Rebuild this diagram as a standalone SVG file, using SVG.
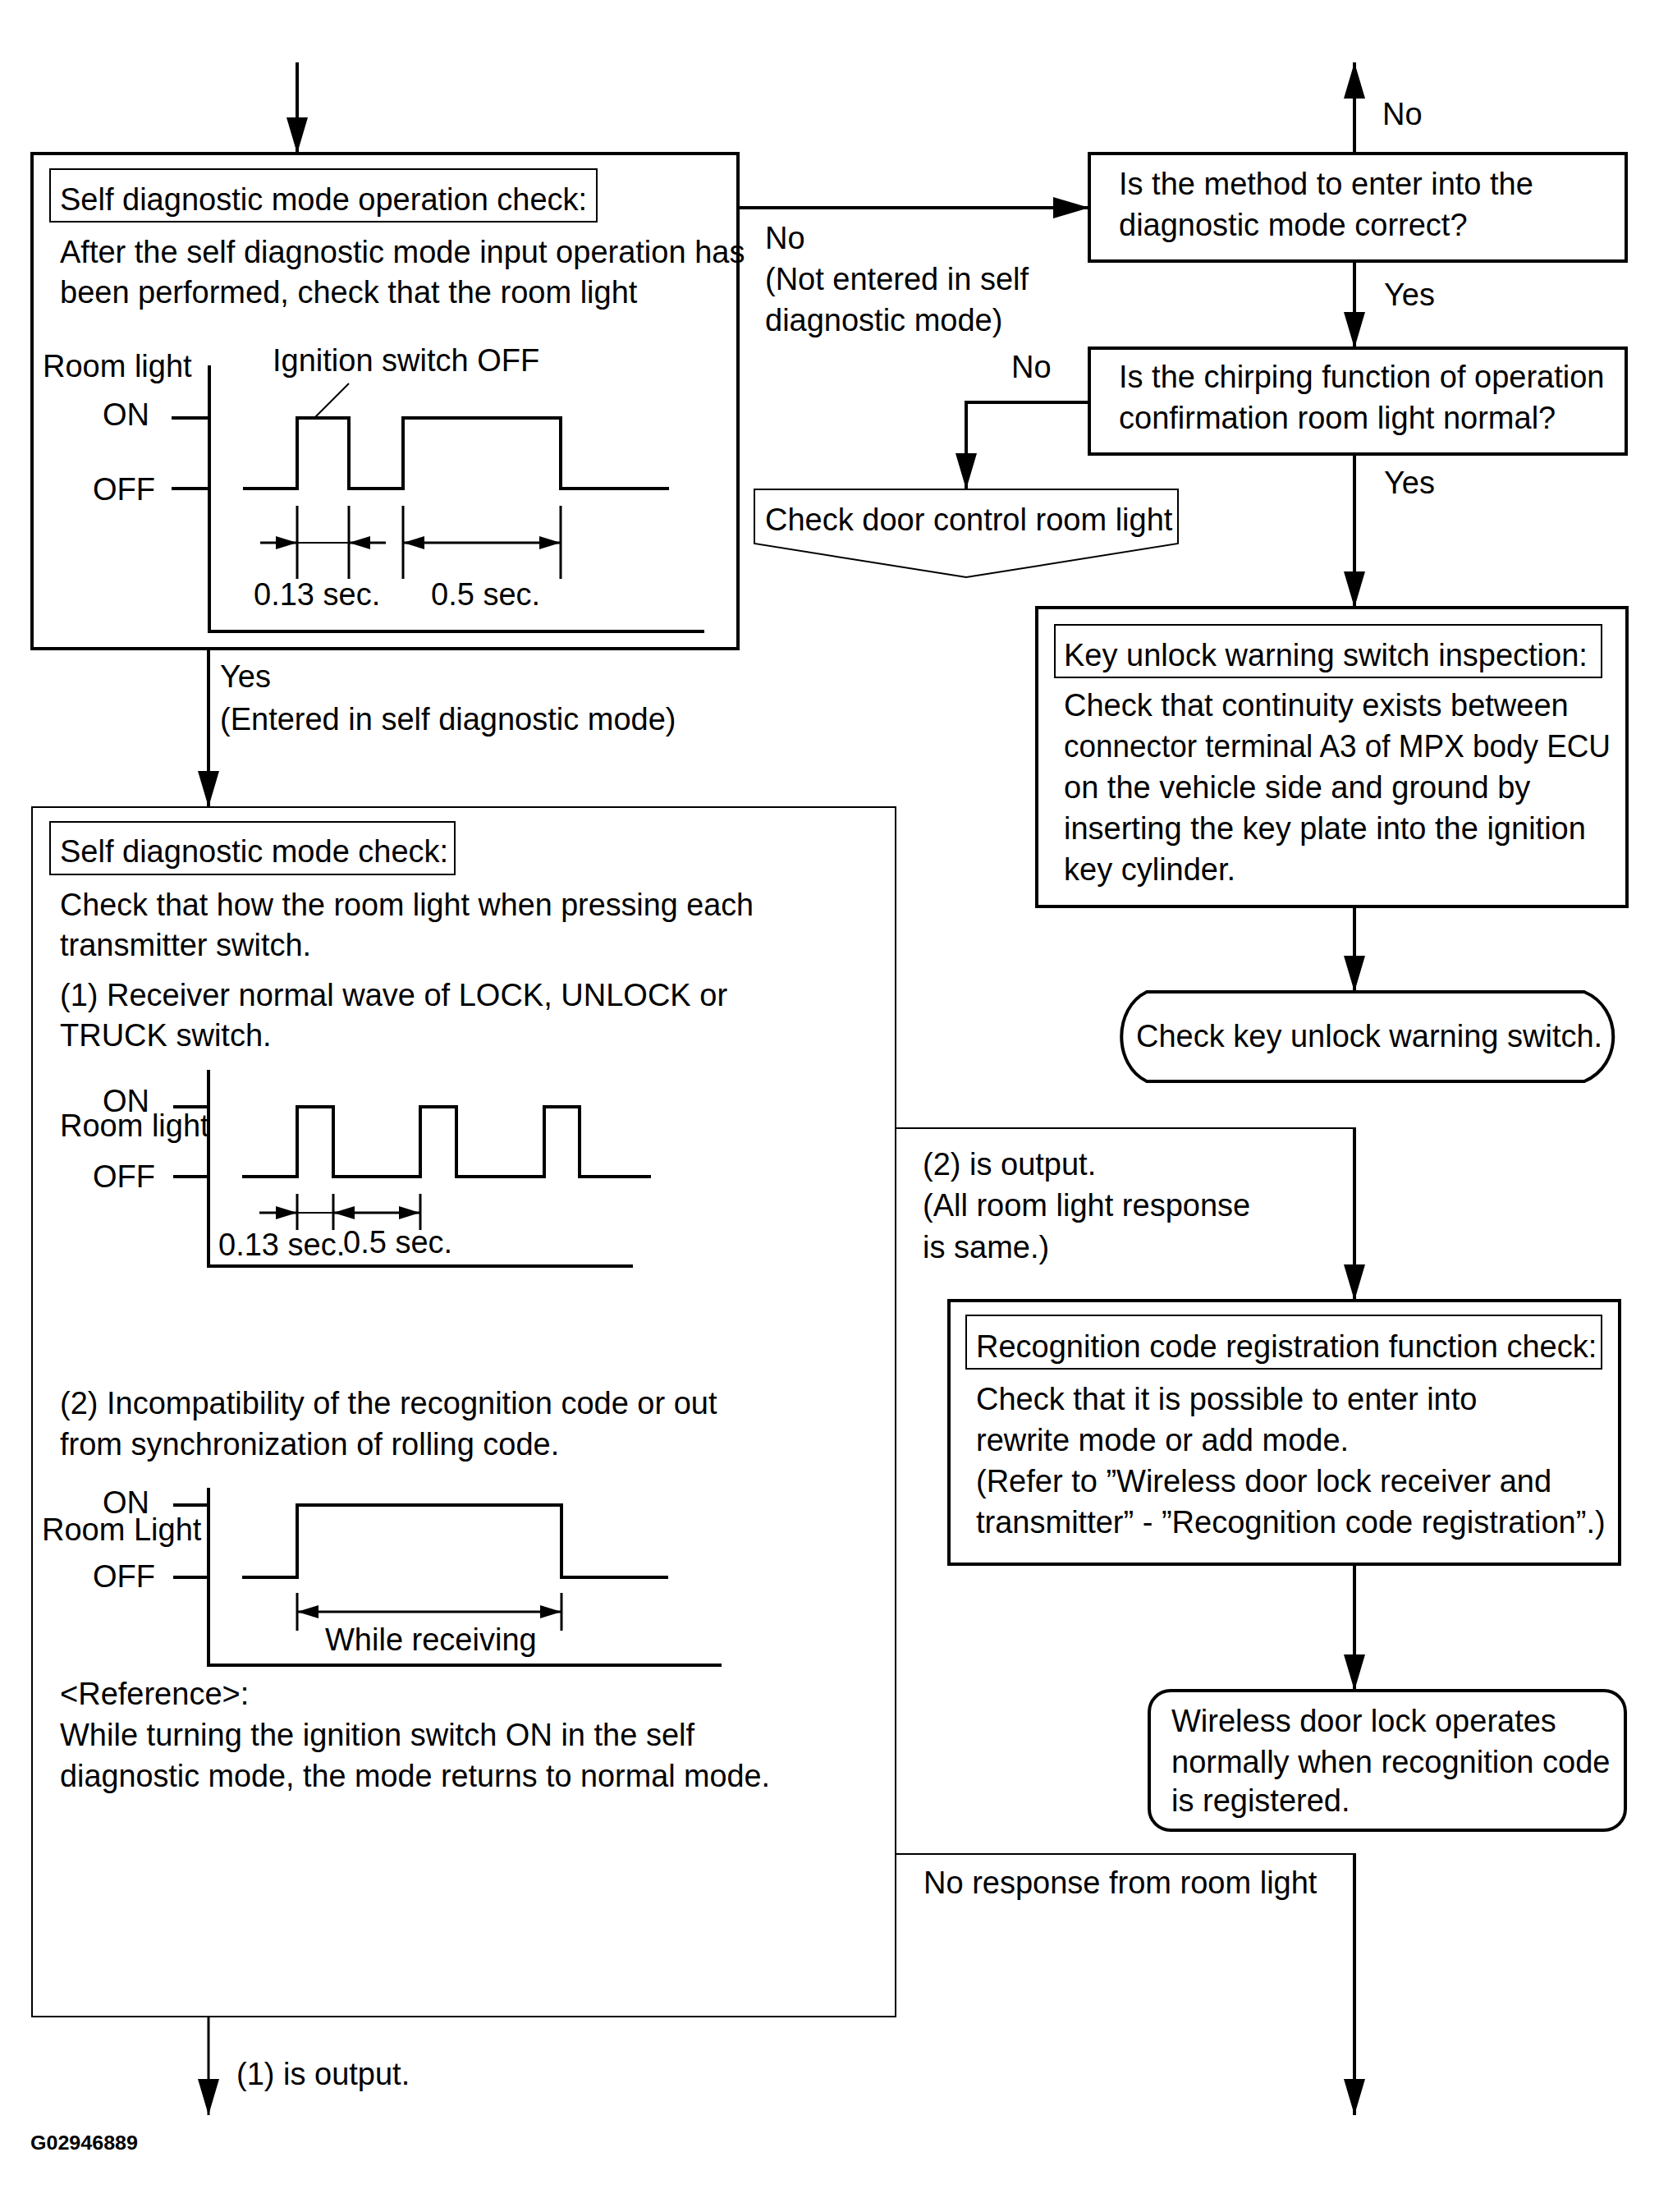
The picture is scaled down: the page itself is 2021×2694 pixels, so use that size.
<svg xmlns="http://www.w3.org/2000/svg" width="2021" height="2694" viewBox="0 0 2021 2694">
<defs>
<marker id="ah" markerUnits="userSpaceOnUse" markerWidth="44" markerHeight="26" refX="44" refY="13" orient="auto" viewBox="0 0 44 26"><path d="M0,0 L44,13 L0,26 z" fill="#000"/></marker>
<marker id="dh" markerUnits="userSpaceOnUse" markerWidth="26" markerHeight="16" refX="26" refY="8" orient="auto-start-reverse" viewBox="0 0 26 16"><path d="M0,0 L26,8 L0,16 z" fill="#000"/></marker>
</defs>
<style>
text{font-family:"Liberation Sans",Arial,sans-serif;font-size:38px;fill:#000}
.thick{fill:none;stroke:#000;stroke-width:4}
.thin{fill:none;stroke:#000;stroke-width:2}
.wave{fill:none;stroke:#000;stroke-width:4}
.dim{fill:none;stroke:#000;stroke-width:3}
.con{fill:none;stroke:#000;stroke-width:4}
.r{text-anchor:end}
.code{font-size:24px;font-weight:bold}
</style>
<rect width="2021" height="2694" fill="#fff"/>

<g id="connectors">
<line class="con" x1="362" y1="76" x2="362" y2="187" marker-end="url(#ah)"/>
<line class="con" x1="899" y1="253" x2="1327" y2="253" marker-end="url(#ah)"/>
<line class="con" x1="1650" y1="187" x2="1650" y2="76" marker-end="url(#ah)"/>
<line class="con" x1="1650" y1="318" x2="1650" y2="424" marker-end="url(#ah)"/>
<path class="con" d="M1327,490 H1177 V596" marker-end="url(#ah)"/>
<line class="con" x1="1650" y1="553" x2="1650" y2="740" marker-end="url(#ah)"/>
<line class="con" x1="1650" y1="1104" x2="1650" y2="1208" marker-end="url(#ah)"/>
<line class="con" x1="254" y1="790" x2="254" y2="983" marker-end="url(#ah)"/>
<line class="thin" x1="1091" y1="1374" x2="1650" y2="1374"/>
<line class="con" x1="1650" y1="1373" x2="1650" y2="1584" marker-end="url(#ah)"/>
<line class="con" x1="1650" y1="1905" x2="1650" y2="2059" marker-end="url(#ah)"/>
<line class="thin" x1="1091" y1="2258" x2="1650" y2="2258"/>
<line class="con" x1="1650" y1="2257" x2="1650" y2="2576" marker-end="url(#ah)"/>
<line class="dim" x1="254" y1="2456" x2="254" y2="2576" marker-end="url(#ah)"/>
<text x="1684" y="152">No</text>
<text x="932" y="303">No</text>
<text x="932" y="353">(Not entered in self</text>
<text x="932" y="403">diagnostic mode)</text>
<text x="1686" y="372">Yes</text>
<text x="1232" y="460">No</text>
<text x="1686" y="601">Yes</text>
<text x="268" y="837">Yes</text>
<text x="268" y="889">(Entered in self diagnostic mode)</text>
<text x="1124" y="1431">(2) is output.</text>
<text x="1124" y="1481">(All room light response</text>
<text x="1124" y="1532">is same.)</text>
<text x="1125" y="2306">No response from room light</text>
<text x="288" y="2539">(1) is output.</text>
</g>

<g id="node-operation-check">
<rect class="thick" x="39" y="187" width="860" height="603"/>
<rect class="thin" x="61" y="206" width="666" height="64"/>
<text x="73" y="256">Self diagnostic mode operation check:</text>
<text x="73" y="320">After the self diagnostic mode input operation has</text>
<text x="73" y="369">been performed, check that the room light</text>
<path class="wave" d="M255,445 V769 H858"/>
<path class="wave" d="M209,509 H255 M209,595 H255"/>
<text x="52" y="459">Room light</text>
<text class="r" x="182" y="518">ON</text>
<text class="r" x="189" y="609">OFF</text>
<text x="332" y="452">Ignition switch OFF</text>
<path class="thin" d="M425,467 L383,509"/>
<path class="wave" d="M296,595 H362 V509 H425 V595 H491 V509 H683 V595 H815"/>
<path class="dim" d="M362,616 V705 M425,616 V705 M491,616 V705 M683,616 V705"/>
<line class="thin" x1="362" y1="661" x2="425" y2="661"/>
<line class="dim" x1="317" y1="661" x2="362" y2="661" marker-end="url(#dh)"/>
<line class="dim" x1="470" y1="661" x2="425" y2="661" marker-end="url(#dh)"/>
<line class="dim" x1="491" y1="661" x2="683" y2="661" marker-start="url(#dh)" marker-end="url(#dh)"/>
<text x="309" y="737">0.13 sec.</text>
<text x="525" y="737">0.5 sec.</text>
</g>

<g id="node-method-correct">
<rect class="thick" x="1327" y="187" width="654" height="131"/>
<text x="1363" y="237">Is the method to enter into the</text>
<text x="1363" y="287">diagnostic mode correct?</text>
</g>

<g id="node-chirping">
<rect class="thick" x="1327" y="424" width="654" height="129"/>
<text x="1363" y="472">Is the chirping function of operation</text>
<text x="1363" y="522">confirmation room light normal?</text>
</g>

<g id="node-door-control">
<polygon class="thin" points="919,596 1435,596 1435,662 1177,703 919,662"/>
<text x="932" y="646">Check door control room light</text>
</g>

<g id="node-key-unlock-inspection">
<rect class="thick" x="1263" y="740" width="719" height="364"/>
<rect class="thin" x="1285" y="761" width="666" height="64"/>
<text x="1296" y="811">Key unlock warning switch inspection:</text>
<text x="1296" y="872">Check that continuity exists between</text>
<text x="1296" y="922" textLength="666" lengthAdjust="spacingAndGlyphs">connector terminal A3 of MPX body ECU</text>
<text x="1296" y="972">on the vehicle side and ground by</text>
<text x="1296" y="1022">inserting the key plate into the ignition</text>
<text x="1296" y="1072">key cylinder.</text>
</g>

<g id="node-check-key-unlock">
<path class="thick" d="M1397,1208 H1930 C1977,1228 1977,1297 1930,1317 H1397 C1356,1297 1356,1228 1397,1208 Z"/>
<text x="1384" y="1275">Check key unlock warning switch.</text>
</g>

<g id="node-self-diag-check">
<rect class="thin" x="39" y="983" width="1052" height="1473"/>
<rect class="thin" x="61" y="1001" width="493" height="64"/>
<text x="73" y="1050">Self diagnostic mode check:</text>
<text x="73" y="1115" textLength="845" lengthAdjust="spacingAndGlyphs">Check that how the room light when pressing each</text>
<text x="73" y="1164">transmitter switch.</text>
<text x="73" y="1225">(1) Receiver normal wave of LOCK, UNLOCK or</text>
<text x="73" y="1274">TRUCK switch.</text>
<path class="wave" d="M254,1303 V1542 H771"/>
<path class="wave" d="M211,1348 H254 M211,1433 H254"/>
<text class="r" x="182" y="1354">ON</text>
<text x="73" y="1384">Room light</text>
<text class="r" x="189" y="1446">OFF</text>
<path class="wave" d="M295,1433 H362 V1348 H406 V1433 H512 V1348 H556 V1433 H663 V1348 H706 V1433 H793"/>
<path class="dim" d="M362,1454 V1498 M406,1454 V1498 M512,1454 V1498"/>
<line class="thin" x1="362" y1="1477" x2="406" y2="1477"/>
<line class="dim" x1="316" y1="1477" x2="362" y2="1477" marker-end="url(#dh)"/>
<line class="dim" x1="406" y1="1477" x2="512" y2="1477" marker-start="url(#dh)" marker-end="url(#dh)"/>
<text x="266" y="1529">0.13 sec.</text>
<text x="418" y="1526">0.5 sec.</text>
<text x="73" y="1722">(2) Incompatibility of the recognition code or out</text>
<text x="73" y="1772">from synchronization of rolling code.</text>
<path class="wave" d="M254,1812 V2028 H879"/>
<path class="wave" d="M211,1833 H254 M211,1921 H254"/>
<text class="r" x="182" y="1843">ON</text>
<text x="51" y="1876">Room Light</text>
<text class="r" x="189" y="1933">OFF</text>
<path class="wave" d="M295,1921 H362 V1833 H684 V1921 H814"/>
<path class="dim" d="M362,1940 V1986 M684,1940 V1986"/>
<line class="dim" x1="362" y1="1963" x2="684" y2="1963" marker-start="url(#dh)" marker-end="url(#dh)"/>
<text x="396" y="2010">While receiving</text>
<text x="73" y="2076">&lt;Reference&gt;:</text>
<text x="73" y="2126">While turning the ignition switch ON in the self</text>
<text x="73" y="2176" textLength="865" lengthAdjust="spacingAndGlyphs">diagnostic mode, the mode returns to normal mode.</text>
</g>

<g id="node-recognition-check">
<rect class="thick" x="1156" y="1584" width="817" height="321"/>
<rect class="thin" x="1177" y="1602" width="774" height="65"/>
<text x="1189" y="1653">Recognition code registration function check:</text>
<text x="1189" y="1717">Check that it is possible to enter into</text>
<text x="1189" y="1767">rewrite mode or add mode.</text>
<text x="1189" y="1817">(Refer to ”Wireless door lock receiver and</text>
<text x="1189" y="1867">transmitter” - ”Recognition code registration”.)</text>
</g>

<g id="node-wireless-normal">
<rect class="thick" x="1400" y="2059" width="580" height="170" rx="26"/>
<text x="1427" y="2109">Wireless door lock operates</text>
<text x="1427" y="2159">normally when recognition code</text>
<text x="1427" y="2206">is registered.</text>
</g>

<text class="code" x="37" y="2618" textLength="131" lengthAdjust="spacingAndGlyphs">G02946889</text>
</svg>
